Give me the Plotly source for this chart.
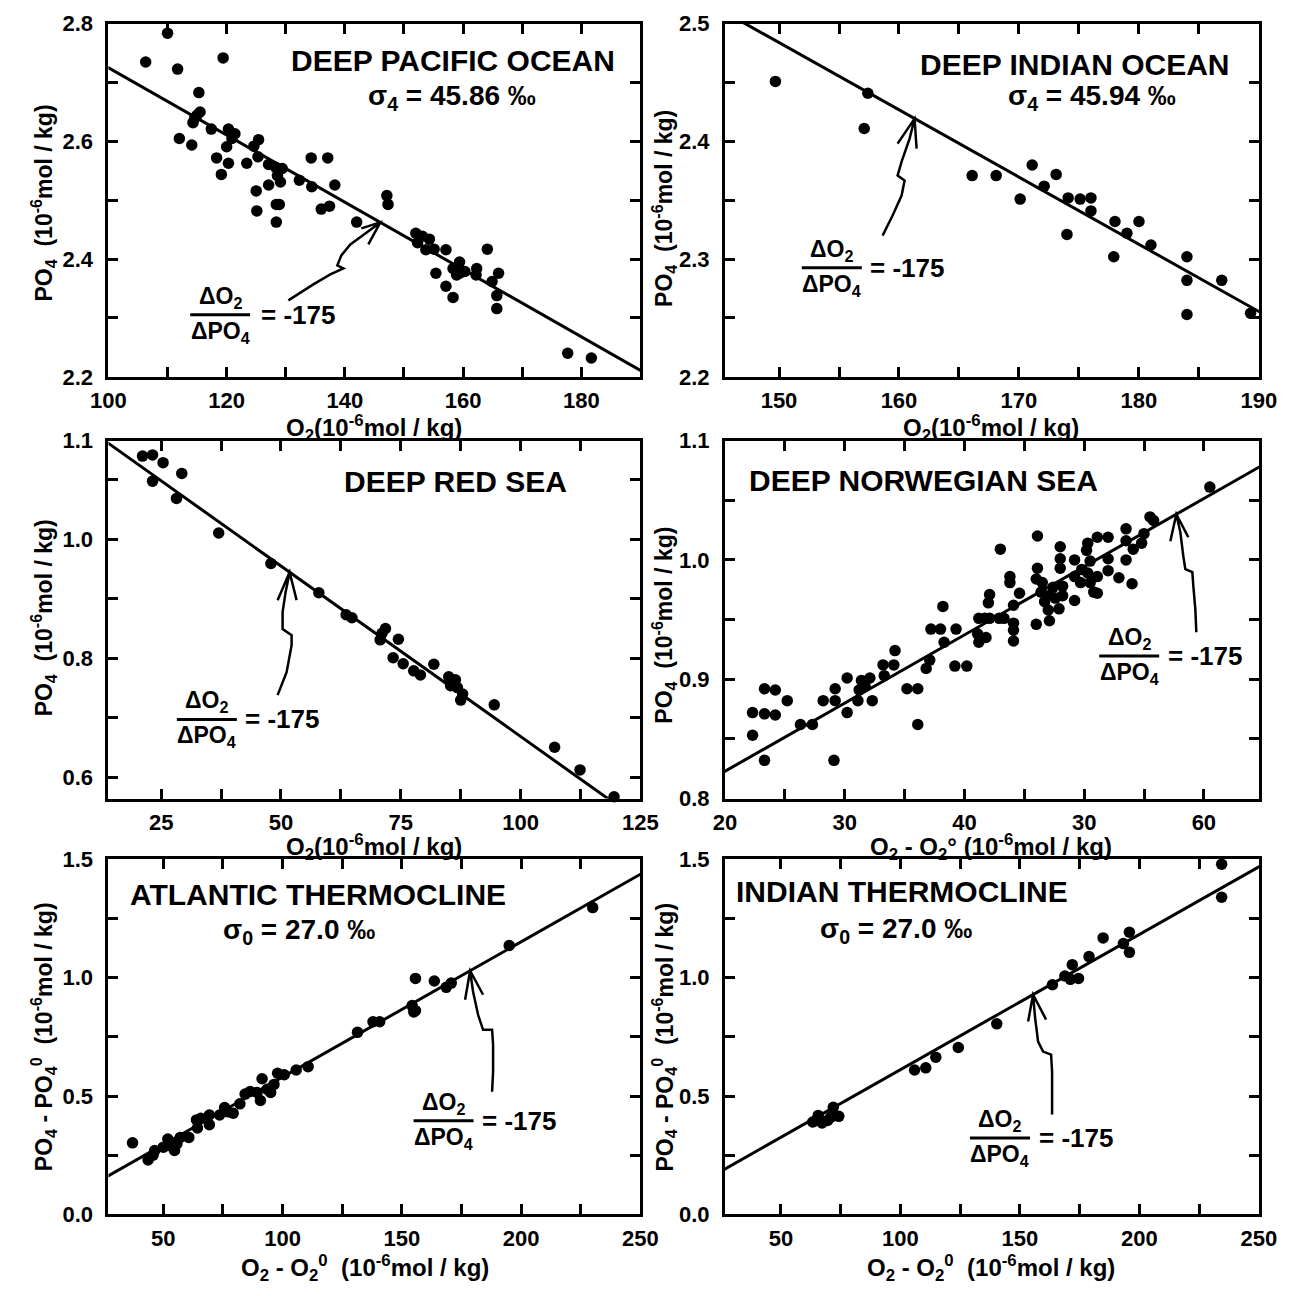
import plotly.graph_objects as go

FONT = "Liberation Sans, Arial, sans-serif"
RATIO = 175.0  # |dO2 / dPO4|

# ---------------- data ----------------
pac_o2 = [110.0, 106.3, 119.4, 111.7, 115.3, 115.0, 114.6, 114.3, 115.5, 117.4,
          120.3, 121.4, 120.9, 120.0, 112.0, 114.1, 118.3, 120.3, 119.1, 123.4,
          125.4, 124.6, 125.3, 127.1, 128.3, 129.4, 128.6, 129.1, 127.1, 125.0,
          125.1, 128.4, 128.9, 128.4, 132.3, 134.3, 134.4, 137.1, 138.3, 136.0,
          137.4, 142.0, 147.1, 147.3, 152.0, 152.3, 153.1, 154.3, 153.7, 155.1,
          157.1, 155.4, 157.1, 158.3, 158.3, 159.4, 159.4, 160.3, 158.9, 162.3,
          162.2, 164.1, 166.0, 164.9, 165.7, 165.7, 177.7, 181.7]
pac_po4 = [2.784, 2.735, 2.742, 2.723, 2.683, 2.645, 2.640, 2.632, 2.650, 2.621,
           2.621, 2.613, 2.605, 2.591, 2.605, 2.594, 2.572, 2.563, 2.544, 2.563,
           2.603, 2.592, 2.574, 2.561, 2.556, 2.554, 2.542, 2.531, 2.526, 2.516,
           2.482, 2.493, 2.493, 2.463, 2.534, 2.572, 2.523, 2.572, 2.526, 2.485,
           2.490, 2.463, 2.508, 2.493, 2.444, 2.428, 2.439, 2.434, 2.416, 2.417,
           2.416, 2.376, 2.354, 2.335, 2.384, 2.395, 2.376, 2.379, 2.373, 2.384,
           2.373, 2.417, 2.376, 2.362, 2.338, 2.316, 2.240, 2.232]

ind_o2 = [149.7, 157.4, 157.1, 166.1, 168.1, 170.1, 171.1, 172.1, 173.1, 174.0,
          174.1, 175.1, 176.0, 176.0, 178.0, 177.9, 179.0, 180.0, 181.0, 184.0,
          184.0, 184.0, 186.9, 189.3]
ind_po4 = [2.451, 2.441, 2.411, 2.371, 2.371, 2.351, 2.380, 2.362, 2.372, 2.321,
           2.352, 2.351, 2.352, 2.341, 2.332, 2.302, 2.322, 2.332, 2.312, 2.302,
           2.282, 2.253, 2.282, 2.254]

red_o2 = [21.1, 23.2, 25.4, 29.3, 23.2, 28.2, 37.0, 47.9, 57.9, 63.6,
          64.8, 70.7, 71.8, 71.1, 74.5, 73.4, 75.5, 77.7, 79.1, 81.9,
          85.0, 86.4, 85.4, 86.8, 87.9, 87.5, 94.5, 107.1, 112.4, 119.5]
red_po4 = [1.139, 1.141, 1.128, 1.110, 1.097, 1.068, 1.010, 0.959, 0.910, 0.873,
           0.868, 0.831, 0.850, 0.842, 0.832, 0.801, 0.791, 0.779, 0.772, 0.790,
           0.769, 0.764, 0.754, 0.751, 0.740, 0.730, 0.722, 0.651, 0.613, 0.568]

nor_o2 = [22.3, 22.3, 23.3, 24.2, 23.3, 24.2, 25.2, 23.3, 26.3, 27.3,
          28.2, 29.2, 29.2, 29.1, 30.2, 30.2, 31.1, 31.2, 31.4, 31.7,
          32.1, 32.3, 33.2, 33.3, 34.1, 34.2, 35.2, 36.1, 36.1, 36.8,
          37.1, 37.2, 38.0, 38.2, 38.3, 39.2, 40.2, 39.3, 41.1, 41.2,
          41.8, 41.2, 41.7, 42.1, 42.0, 42.1, 43.0, 42.9, 43.3, 43.8,
          43.8, 44.1, 44.1, 44.1, 44.1, 44.6, 46.1, 46.1, 46.0, 46.0,
          46.5, 46.4, 46.7, 47.0, 47.0, 47.1, 47.4, 47.6, 47.9, 48.0,
          48.0, 48.0, 48.2, 48.2, 49.2, 49.2, 49.2, 49.7, 49.8, 50.2,
          50.3, 50.5, 50.3, 50.5, 50.8, 51.1, 51.1, 51.1, 52.0, 52.0,
          52.0, 52.9, 53.5, 53.5, 53.5, 54.0, 54.1, 55.0, 54.8, 55.5,
          55.8, 60.5]
nor_po4 = [0.853, 0.872, 0.892, 0.891, 0.871, 0.870, 0.882, 0.832, 0.862, 0.862,
           0.882, 0.892, 0.882, 0.832, 0.901, 0.872, 0.882, 0.891, 0.899, 0.894,
           0.901, 0.882, 0.912, 0.903, 0.912, 0.924, 0.892, 0.892, 0.862, 0.909,
           0.916, 0.942, 0.942, 0.961, 0.931, 0.911, 0.911, 0.942, 0.938, 0.931,
           0.935, 0.951, 0.951, 0.951, 0.964, 0.971, 1.009, 0.951, 0.951, 0.986,
           0.981, 0.962, 0.947, 0.941, 0.932, 0.972, 1.020, 0.993, 0.984, 0.946,
           0.981, 0.973, 0.965, 0.970, 0.958, 0.949, 0.977, 0.968, 0.959, 1.011,
           1.001, 0.993, 0.978, 0.970, 1.000, 0.986, 0.966, 0.981, 0.992, 1.008,
           1.014, 0.999, 0.989, 0.981, 0.973, 0.972, 1.019, 0.986, 1.019, 1.001,
           0.991, 0.985, 1.026, 1.016, 1.000, 0.980, 1.009, 1.022, 1.014, 1.036,
           1.033, 1.061]

atl_do2 = [37.1, 43.6, 46.4, 45.7, 51.9, 52.1, 50.0, 54.7, 55.7, 57.1,
           60.7, 63.9, 64.3, 65.7, 69.3, 69.3, 73.6, 75.7, 77.1, 79.3,
           82.1, 84.3, 86.4, 89.3, 90.7, 91.4, 93.6, 95.0, 96.4, 97.9,
           100.7, 105.7, 110.7, 131.4, 137.9, 140.7, 154.3, 155.7, 155.0, 155.7,
           163.6, 168.6, 170.7, 195.0, 230.0]
atl_dpo4 = [0.302, 0.230, 0.270, 0.250, 0.318, 0.291, 0.284, 0.270, 0.298, 0.325,
            0.325, 0.399, 0.365, 0.406, 0.420, 0.379, 0.420, 0.451, 0.433, 0.427,
            0.467, 0.508, 0.519, 0.515, 0.481, 0.573, 0.529, 0.515, 0.549, 0.596,
            0.590, 0.610, 0.624, 0.769, 0.814, 0.814, 0.882, 0.861, 0.855, 0.997,
            0.986, 0.959, 0.977, 1.136, 1.296]

ith_do2 = [63.3, 64.8, 65.6, 67.2, 69.5, 70.8, 71.9, 74.2, 105.9, 110.6,
           114.8, 124.2, 140.3, 163.6, 168.8, 171.1, 171.9, 174.5, 178.9, 184.8,
           193.3, 195.8, 195.8, 234.4, 234.4, 246.9]
ith_dpo4 = [0.390, 0.397, 0.418, 0.386, 0.397, 0.411, 0.452, 0.414, 0.610, 0.619,
            0.664, 0.705, 0.805, 0.970, 1.007, 0.993, 1.055, 0.997, 1.089, 1.168,
            1.144, 1.192, 1.107, 1.340, 1.479, 1.521]

# fitted lines: anchor point and sign of slope (slope = sign / 175)
line_anchor = {"pac": (101.1, 2.719, -1), "ind": (147.2, 2.500, -1), "red": (13.9, 1.161, -1),
               "nor": (20.9, 0.828, +1), "atl": (27.9, 0.168, +1), "ith": (26.6, 0.192, +1)}

# ---------------- layout helpers ----------------
W, H = 1310, 1296
COLS = [(93, 640), (727, 1276)]
ROWS = [(12, 372), (437, 802), (864, 1226)]


def xdom(c):
    return [COLS[c][0] / W, COLS[c][1] / W]


def ydom(r):
    return [1 - ROWS[r][1] / H, 1 - ROWS[r][0] / H]


def ticks(vals, labels):
    txt = []
    for v in vals:
        t = ""
        for lv, lt in labels:
            if abs(v - lv) < 1e-6:
                t = lt
        txt.append(t)
    return vals, txt


def frange(a, b, s):
    n = int(round((b - a) / s))
    return [round(a + i * s, 6) for i in range(n + 1)]


panels = [
    dict(key="pac", x=pac_o2, y=pac_po4, col=0, row=0, xr=[100, 190], yr=[2.2, 2.8],
         xt=ticks(frange(100, 190, 10), [(100, "100"), (120, "120"), (140, "140"), (160, "160"), (180, "180")]),
         yt=ticks(frange(2.2, 2.8, 0.1), [(2.2, "2.2"), (2.4, "2.4"), (2.6, "2.6"), (2.8, "2.8")]),
         title="DEEP PACIFIC OCEAN", tpos=(0.648, 0.895), sigma="σ<sub>4</sub> = 45.86 ‰", spos=(0.645, 0.790),
         frac=(0.21, 0.176), eqx=0.357, tipx=146.0,
         arrow=[(0, 0), (-15, 11), (-30, 22), (-39, 33), (-43, 43), (-37, 46), (-50, 52), (-67, 62), (-92, 78)],
         barbs=[(-19, 6), (-12, 22)]),
    dict(key="ind", x=ind_o2, y=ind_po4, col=1, row=0, xr=[145.5, 190], yr=[2.2, 2.5],
         xt=ticks(frange(150, 190, 5), [(150, "150"), (160, "160"), (170, "170"), (180, "180"), (190, "190")]),
         yt=ticks(frange(2.2, 2.5, 0.05), [(2.2, "2.2"), (2.3, "2.3"), (2.4, "2.4"), (2.5, "2.5")]),
         title="DEEP INDIAN OCEAN", tpos=(0.656, 0.886), sigma="σ<sub>4</sub> = 45.94 ‰", spos=(0.688, 0.791),
         frac=(0.20, 0.309), eqx=0.341, tipx=161.3,
         arrow=[(0, 0), (-5, 20), (-13, 43), (-17, 57), (-10, 62), (-13, 77), (-22, 97), (-32, 117)],
         barbs=[(-17, 25), (2, 30)]),
    dict(key="red", x=red_o2, y=red_po4, col=0, row=1, xr=[14, 125], yr=[0.565, 1.165],
         xt=ticks(frange(25, 125, 12.5), [(25, "25"), (50, "50"), (75, "75"), (100, "100"), (125, "125")]),
         yt=(frange(0.6, 1.1, 0.1) + [1.165], ["0.6", "", "0.8", "", "1.0", "", "1.1"]),
         title="DEEP RED SEA", tpos=(0.652, 0.887), sigma=None, spos=None,
         frac=(0.185, 0.221), eqx=0.326, tipx=51.8,
         arrow=[(0, 0), (-4, 20), (-7, 40), (-7, 57), (2, 63), (2, 73), (-3, 100), (-12, 123)],
         barbs=[(-12, 28), (7, 28)]),
    dict(key="nor", x=nor_o2, y=nor_po4, col=1, row=1, xr=[20, 64.6], yr=[0.8, 1.1],
         xt=ticks(frange(20, 60, 5), [(20, "20"), (30, "30"), (40, "40"), (50, "30"), (60, "60")]),
         yt=ticks(frange(0.8, 1.1, 0.05), [(0.8, "0.8"), (0.9, "0.9"), (1.0, "1.0"), (1.1, "1.1")]),
         title="DEEP NORWEGIAN SEA", tpos=(0.372, 0.889), sigma=None, spos=None,
         frac=(0.757, 0.398), eqx=0.899, tipx=57.7,
         arrow=[(0, 0), (4, 18), (7, 42), (9, 55), (16, 58), (17, 72), (19, 95), (20, 118)],
         barbs=[(-6, 27), (12, 23)]),
    dict(key="atl", x=atl_do2, y=atl_dpo4, col=0, row=2, xr=[27, 250], yr=[0, 1.5],
         xt=ticks(frange(50, 250, 25), [(50, "50"), (100, "100"), (150, "150"), (200, "200"), (250, "250")]),
         yt=ticks(frange(0, 1.5, 0.25), [(0, "0.0"), (0.5, "0.5"), (1.0, "1.0"), (1.5, "1.5")]),
         title="ATLANTIC THERMOCLINE", tpos=(0.394, 0.900), sigma="σ<sub>0</sub> = 27.0 ‰", spos=(0.359, 0.796),
         frac=(0.630, 0.264), eqx=0.771, tipx=178.6,
         arrow=[(0, 0), (3, 21), (8, 44), (13, 59), (22, 59), (23, 74), (23, 101), (22, 121)],
         barbs=[(-5, 29), (13, 24)]),
    dict(key="ith", x=ith_do2, y=ith_dpo4, col=1, row=2, xr=[26.6, 250], yr=[0, 1.5],
         xt=ticks(frange(50, 250, 25), [(50, "50"), (100, "100"), (150, "150"), (200, "200"), (250, "250")]),
         yt=ticks(frange(0, 1.5, 0.25), [(0, "0.0"), (0.5, "0.5"), (1.0, "1.0"), (1.5, "1.5")]),
         title="INDIAN THERMOCLINE", tpos=(0.332, 0.909), sigma="σ<sub>0</sub> = 27.0 ‰", spos=(0.320, 0.800),
         frac=(0.515, 0.215), eqx=0.658, tipx=155.5,
         arrow=[(0, 0), (2, 23), (5, 47), (10, 57), (18, 60), (19, 77), (19, 103), (19, 120)],
         barbs=[(-5, 27), (13, 25)]),
]

xtitles = ["O<sub>2</sub>(10<sup>-6</sup>mol / kg)", "O<sub>2</sub>(10<sup>-6</sup>mol / kg)",
           "O<sub>2</sub>(10<sup>-6</sup>mol / kg)", "O<sub>2</sub> - O<sub>2</sub>° (10<sup>-6</sup>mol / kg)",
           "O<sub>2</sub> - O<sub>2</sub><sup>0</sup>  (10<sup>-6</sup>mol / kg)",
           "O<sub>2</sub> - O<sub>2</sub><sup>0</sup>  (10<sup>-6</sup>mol / kg)"]
ytitles = ["PO<sub>4</sub>  (10<sup>-6</sup>mol / kg)"] * 4 + \
          ["PO<sub>4</sub> - PO<sub>4</sub><sup>0</sup>  (10<sup>-6</sup>mol / kg)"] * 2
xtitle_pos = [(366, 424), (1001, 424), (366, 851), (1001, 851), (357, 1281), (1001, 1281)]
ytitle_pos = [(26, 195), (664, 200), (26, 618), (664, 625), (26, 1045), (664, 1045)]

fig = go.Figure()
annotations = []
shapes = []
layout_axes = {}

for i, p in enumerate(panels):
    n = i + 1
    xa = "x" if n == 1 else f"x{n}"
    ya = "y" if n == 1 else f"y{n}"
    # fitted line with slope -1/175 (or +1/175 for the anomaly plots)
    x0, y0, sgn = line_anchor[p["key"]]
    lx = [p["xr"][0] - 5, p["xr"][1] + 5]
    ly = [y0 + sgn * (v - x0) / RATIO for v in lx]
    fig.add_trace(go.Scatter(x=lx, y=ly, mode="lines", line=dict(color="black", width=3),
                             xaxis=xa, yaxis=ya, showlegend=False, hoverinfo="skip"))
    fig.add_trace(go.Scatter(x=p["x"], y=p["y"], mode="markers",
                             marker=dict(size=11.5, color="black"), cliponaxis=False,
                             xaxis=xa, yaxis=ya, showlegend=False))

    common = dict(showline=True, linewidth=3, linecolor="black", mirror="allticks",
                  ticks="inside", ticklen=10, tickwidth=2.5, tickcolor="black",
                  showgrid=False, zeroline=False, tickmode="array",
                  tickfont=dict(family=FONT, size=22, color="black", weight="bold"))
    layout_axes["xaxis" if n == 1 else f"xaxis{n}"] = dict(
        domain=xdom(p["col"]), range=p["xr"], anchor=ya, ticklabelstandoff=2,
        tickvals=p["xt"][0], ticktext=p["xt"][1], **common)
    layout_axes["yaxis" if n == 1 else f"yaxis{n}"] = dict(
        domain=ydom(p["row"]), range=p["yr"], anchor=xa, ticklabelstandoff=8,
        tickvals=p["yt"][0], ticktext=p["yt"][1], **common)

    xd, yd = f"{xa} domain", f"{ya} domain"
    ctr = dict(xanchor="center", yanchor="middle", showarrow=False)
    # panel title
    annotations.append(dict(text=f"<b>{p['title']}</b>", x=p["tpos"][0], y=p["tpos"][1], xref=xd, yref=yd,
                            font=dict(family=FONT, size=30, color="black"), **ctr))
    if p["sigma"]:
        annotations.append(dict(text=f"<b>{p['sigma']}</b>", x=p["spos"][0], y=p["spos"][1], xref=xd, yref=yd,
                                font=dict(family=FONT, size=28, color="black"), **ctr))
    # fraction  dO2 / dPO4 = -175
    fx, fy = p["frac"]
    annotations.append(dict(text="<b>ΔO<sub>2</sub></b>", x=fx, y=fy, xref=xd, yref=yd, xanchor="center",
                            yanchor="bottom", yshift=1, showarrow=False,
                            font=dict(family=FONT, size=23, color="black")))
    annotations.append(dict(text="<b>ΔPO<sub>4</sub></b>", x=fx, y=fy, xref=xd, yref=yd, xanchor="center",
                            yanchor="top", yshift=-1, showarrow=False,
                            font=dict(family=FONT, size=23, color="black")))
    annotations.append(dict(text="<b>= -175</b>", x=p["eqx"], y=fy, xref=xd, yref=yd,
                            font=dict(family=FONT, size=26, color="black"), **ctr))
    shapes.append(dict(type="line", xref=xd, yref=yd, xsizemode="pixel", xanchor=fx, x0=-30, x1=30,
                       y0=fy, y1=fy, line=dict(color="black", width=3)))
    # hand-drawn arrow pointing at the line
    tx = p["tipx"]
    ty = y0 + sgn * (tx - x0) / RATIO
    path = "M " + " L ".join(f"{dx},{-dy}" for dx, dy in p["arrow"])
    b1, b2 = p["barbs"]
    path += f" M {b1[0]},{-b1[1]} L 0,0 L {b2[0]},{-b2[1]}"
    shapes.append(dict(type="path", xref=xa, yref=ya, xsizemode="pixel", ysizemode="pixel",
                       xanchor=tx, yanchor=ty, path=path, line=dict(color="black", width=2.5)))

    # axis titles
    tx_, ty_ = xtitle_pos[i]
    annotations.append(dict(text=f"<b>{xtitles[i]}</b>", x=tx_ / W, y=1 - ty_ / H, xref="paper", yref="paper",
                            font=dict(family=FONT, size=24, color="black"), **ctr))
    yx_, yy_ = ytitle_pos[i]
    annotations.append(dict(text=f"<b>{ytitles[i]}</b>", x=yx_ / W, y=1 - yy_ / H, xref="paper", yref="paper",
                            textangle=-90, font=dict(family=FONT, size=23, color="black"), **ctr))

fig.update_layout(width=W, height=H, margin=dict(l=0, r=0, t=0, b=0),
                  paper_bgcolor="white", plot_bgcolor="white",
                  font=dict(family=FONT, color="black"),
                  annotations=annotations, shapes=shapes, **layout_axes)

fig.write_html("out.html")
